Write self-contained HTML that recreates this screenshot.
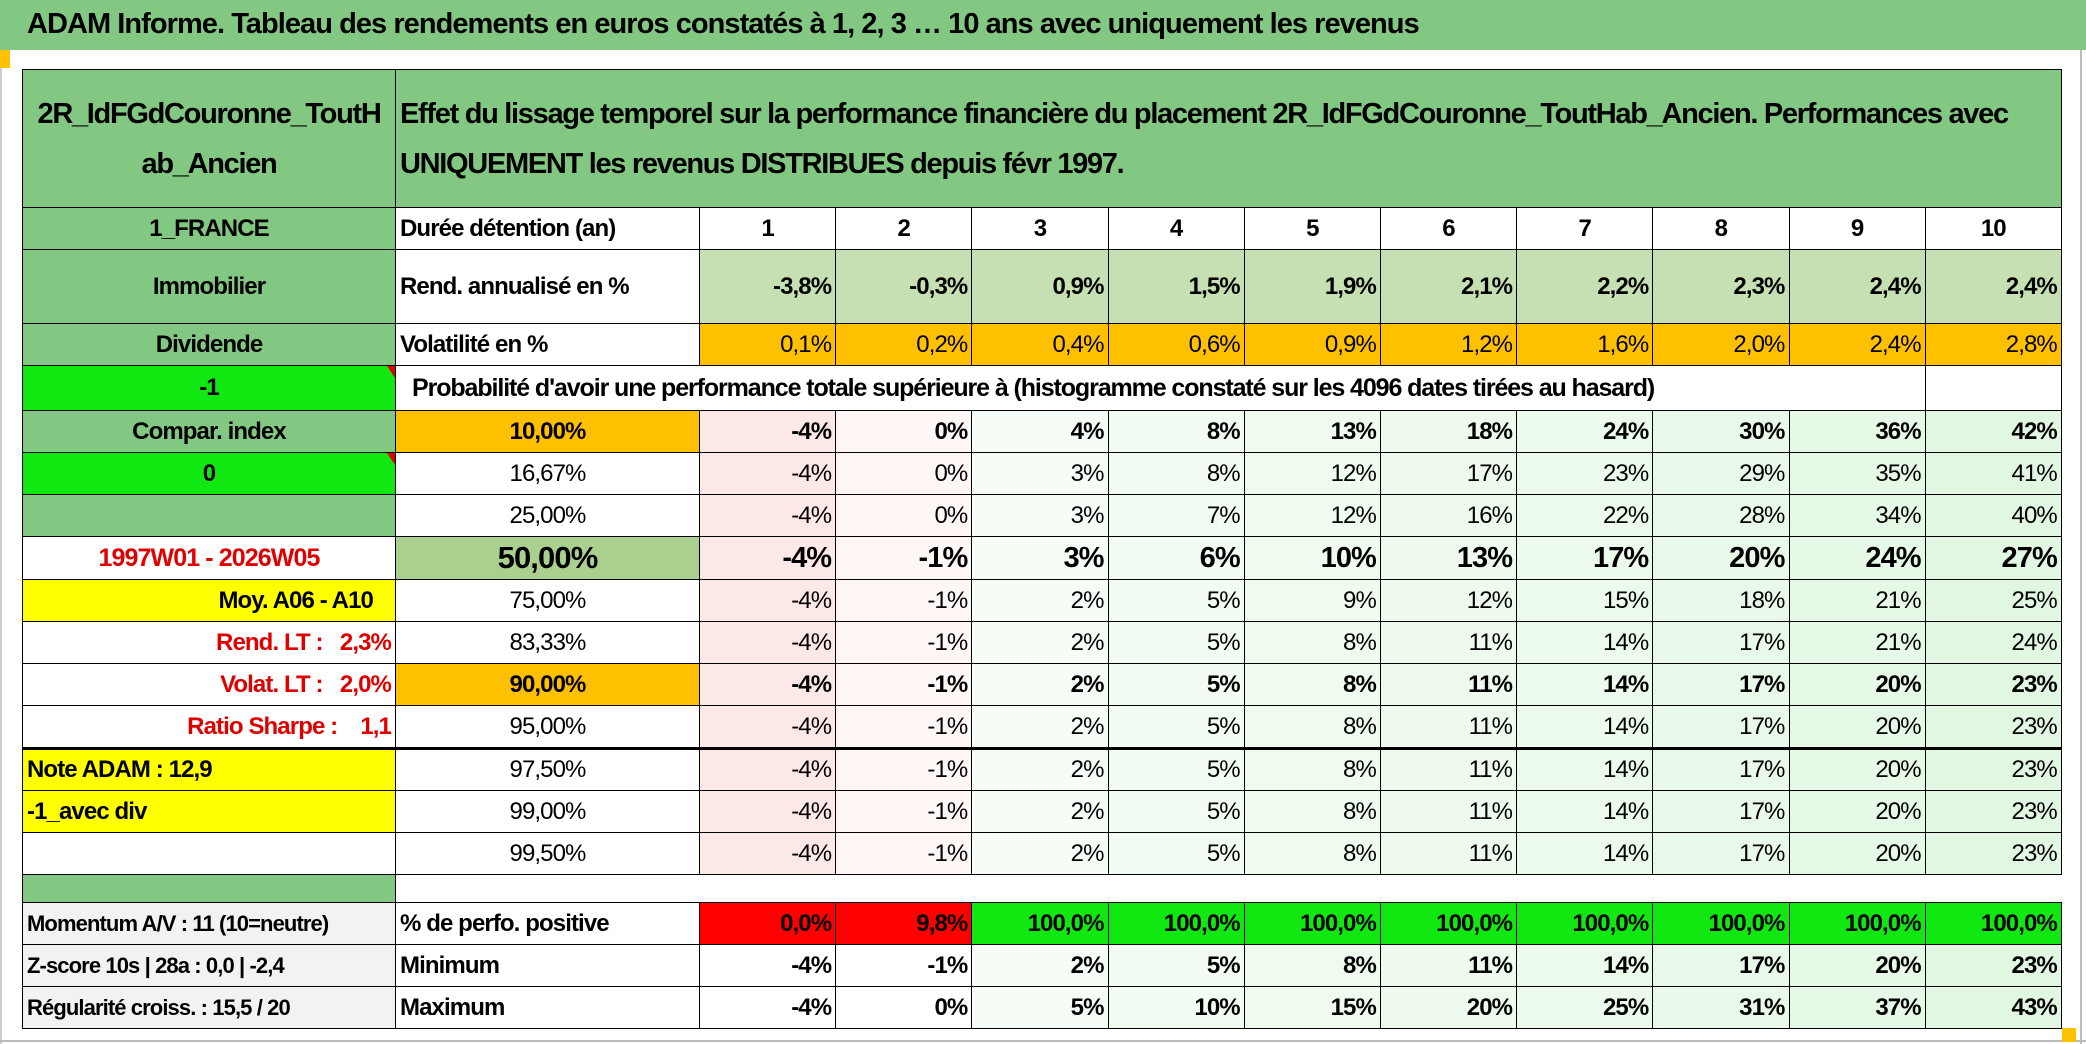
<!DOCTYPE html>
<html><head><meta charset="utf-8"><style>
body{margin:0;width:2086px;height:1044px;background:#fff;position:relative;overflow:hidden;font-family:"Liberation Sans",sans-serif;}
#title{position:absolute;left:0;top:0;width:2086px;height:50px;background:#82C882;}
#title span{position:absolute;left:27px;top:8px;font-size:29px;font-weight:bold;letter-spacing:-0.95px;color:#000;}
#mk1{position:absolute;left:0;top:50px;width:10px;height:18px;background:#FFC000}
#mk2{position:absolute;left:2062px;top:1028px;width:14px;height:14px;background:#FFC000}
#frameR{position:absolute;left:2080px;top:50px;width:2px;height:994px;background:#bbb}
#frameL{position:absolute;left:0;top:68px;width:2px;height:976px;background:#ccc}
#frameB{position:absolute;left:0;top:1040px;width:2086px;height:2px;background:#bbb}
table{position:absolute;left:22px;top:69px;border-collapse:collapse;table-layout:fixed;}
td{border:1.5px solid #000;padding:0 4px;font-size:24px;line-height:26px;white-space:nowrap;overflow:hidden;letter-spacing:-0.9px;}
.g{background:#82C882;text-align:center;font-weight:bold}
.c{text-align:center}.r{text-align:right}.b{font-weight:bold}
.red{color:#E00000}
.y{background:#FFFF00}.o{background:#FFC000}.lg{background:#C6E0B4}
.bg{background:#11E811}.rd{background:#FF0000}.gr{background:#F2F2F2}
.p1{background:#FDE8E8}.p2{background:#FFF6F6}
.k3{background:#F6FDF6}.k4{background:#F3FCF3}.k5{background:#F0FBF0}.k6{background:#EEFAEE}.k7{background:#ECFAEC}.k8{background:#E9F9E9}.k9{background:#E6F8E6}.k10{background:#E2F7E2}
.thick td{border-bottom:3px solid #000}
.tri{position:relative}
.tri:after{content:"";position:absolute;right:0;top:0;border-top:12px solid #E00000;border-left:8px solid transparent;}
.big td{font-size:29px}
</style></head><body>
<div id="title"><span>ADAM Informe. Tableau des rendements en euros constatés à 1, 2, 3 … 10 ans avec uniquement les revenus</span></div>
<div id="mk1"></div><div id="frameL"></div><div id="frameR"></div><div id="frameB"></div>
<table>
<colgroup><col style="width:373px"><col style="width:304px"><col span="10" style="width:136.2px"></colgroup>
<tr style="height:138px"><td class="g" style="font-size:29px;line-height:50px;letter-spacing:-1.3px">2R_IdFGdCouronne_ToutH<br>ab_Ancien</td><td colspan="11" class="g" style="text-align:left;font-size:29px;line-height:50px;letter-spacing:-1.3px">Effet du lissage temporel sur la performance financière du placement 2R_IdFGdCouronne_ToutHab_Ancien. Performances avec<br>UNIQUEMENT les revenus DISTRIBUES depuis févr 1997.</td></tr>
<tr style="height:42px"><td class="g">1_FRANCE</td><td class="b">Durée détention (an)</td><td class="c b">1</td><td class="c b">2</td><td class="c b">3</td><td class="c b">4</td><td class="c b">5</td><td class="c b">6</td><td class="c b">7</td><td class="c b">8</td><td class="c b">9</td><td class="c b">10</td></tr>
<tr style="height:74px"><td class="g">Immobilier</td><td class="b">Rend. annualisé en %</td><td class="r b lg">-3,8%</td><td class="r b lg">-0,3%</td><td class="r b lg">0,9%</td><td class="r b lg">1,5%</td><td class="r b lg">1,9%</td><td class="r b lg">2,1%</td><td class="r b lg">2,2%</td><td class="r b lg">2,3%</td><td class="r b lg">2,4%</td><td class="r b lg">2,4%</td></tr>
<tr style="height:42px"><td class="g">Dividende</td><td class="b">Volatilité en %</td><td class="r o">0,1%</td><td class="r o">0,2%</td><td class="r o">0,4%</td><td class="r o">0,6%</td><td class="r o">0,9%</td><td class="r o">1,2%</td><td class="r o">1,6%</td><td class="r o">2,0%</td><td class="r o">2,4%</td><td class="r o">2,8%</td></tr>
<tr style="height:45px"><td class="g bg tri">-1</td><td colspan="10" class="b" style="padding-left:16px;font-size:25px;letter-spacing:-1.1px">Probabilité d'avoir une performance totale supérieure à (histogramme constaté sur les 4096 dates tirées au hasard)</td><td></td></tr>
<tr style="height:42px" class="b"><td class="g">Compar. index</td><td class="c o b">10,00%</td><td class="r p1">-4%</td><td class="r p2">0%</td><td class="r k3">4%</td><td class="r k4">8%</td><td class="r k5">13%</td><td class="r k6">18%</td><td class="r k7">24%</td><td class="r k8">30%</td><td class="r k9">36%</td><td class="r k10">42%</td></tr>
<tr style="height:42px"><td class="g bg tri">0</td><td class="c">16,67%</td><td class="r p1">-4%</td><td class="r p2">0%</td><td class="r k3">3%</td><td class="r k4">8%</td><td class="r k5">12%</td><td class="r k6">17%</td><td class="r k7">23%</td><td class="r k8">29%</td><td class="r k9">35%</td><td class="r k10">41%</td></tr>
<tr style="height:42px"><td class="g"></td><td class="c">25,00%</td><td class="r p1">-4%</td><td class="r p2">0%</td><td class="r k3">3%</td><td class="r k4">7%</td><td class="r k5">12%</td><td class="r k6">16%</td><td class="r k7">22%</td><td class="r k8">28%</td><td class="r k9">34%</td><td class="r k10">40%</td></tr>
<tr style="height:43px" class="b big"><td class="c red b" style="font-size:25px">1997W01 - 2026W05</td><td class="c b" style="background:#A9D08E;font-size:31px">50,00%</td><td class="r p1">-4%</td><td class="r p2">-1%</td><td class="r k3">3%</td><td class="r k4">6%</td><td class="r k5">10%</td><td class="r k6">13%</td><td class="r k7">17%</td><td class="r k8">20%</td><td class="r k9">24%</td><td class="r k10">27%</td></tr>
<tr style="height:42px"><td class="r y b" style="padding-right:22px">Moy. A06 - A10</td><td class="c">75,00%</td><td class="r p1">-4%</td><td class="r p2">-1%</td><td class="r k3">2%</td><td class="r k4">5%</td><td class="r k5">9%</td><td class="r k6">12%</td><td class="r k7">15%</td><td class="r k8">18%</td><td class="r k9">21%</td><td class="r k10">25%</td></tr>
<tr style="height:42px"><td class="r red b">Rend. LT :&nbsp;&nbsp; 2,3%</td><td class="c">83,33%</td><td class="r p1">-4%</td><td class="r p2">-1%</td><td class="r k3">2%</td><td class="r k4">5%</td><td class="r k5">8%</td><td class="r k6">11%</td><td class="r k7">14%</td><td class="r k8">17%</td><td class="r k9">21%</td><td class="r k10">24%</td></tr>
<tr style="height:42px" class="b"><td class="r red b">Volat. LT :&nbsp;&nbsp; 2,0%</td><td class="c o b">90,00%</td><td class="r p1">-4%</td><td class="r p2">-1%</td><td class="r k3">2%</td><td class="r k4">5%</td><td class="r k5">8%</td><td class="r k6">11%</td><td class="r k7">14%</td><td class="r k8">17%</td><td class="r k9">20%</td><td class="r k10">23%</td></tr>
<tr style="height:43px" class="thick"><td class="r red b">Ratio Sharpe :&nbsp;&nbsp;&nbsp; 1,1</td><td class="c">95,00%</td><td class="r p1">-4%</td><td class="r p2">-1%</td><td class="r k3">2%</td><td class="r k4">5%</td><td class="r k5">8%</td><td class="r k6">11%</td><td class="r k7">14%</td><td class="r k8">17%</td><td class="r k9">20%</td><td class="r k10">23%</td></tr>
<tr style="height:42px"><td class="y b">Note ADAM : 12,9</td><td class="c">97,50%</td><td class="r p1">-4%</td><td class="r p2">-1%</td><td class="r k3">2%</td><td class="r k4">5%</td><td class="r k5">8%</td><td class="r k6">11%</td><td class="r k7">14%</td><td class="r k8">17%</td><td class="r k9">20%</td><td class="r k10">23%</td></tr>
<tr style="height:42px"><td class="y b">-1_avec div</td><td class="c">99,00%</td><td class="r p1">-4%</td><td class="r p2">-1%</td><td class="r k3">2%</td><td class="r k4">5%</td><td class="r k5">8%</td><td class="r k6">11%</td><td class="r k7">14%</td><td class="r k8">17%</td><td class="r k9">20%</td><td class="r k10">23%</td></tr>
<tr style="height:42px"><td></td><td class="c">99,50%</td><td class="r p1">-4%</td><td class="r p2">-1%</td><td class="r k3">2%</td><td class="r k4">5%</td><td class="r k5">8%</td><td class="r k6">11%</td><td class="r k7">14%</td><td class="r k8">17%</td><td class="r k9">20%</td><td class="r k10">23%</td></tr>
<tr style="height:28px"><td class="g"></td><td colspan="11" style="border-left:none;border-right:none"></td></tr>
<tr style="height:42px" class="b"><td class="gr b" style="font-size:22px">Momentum A/V : 11 (10=neutre)</td><td class="b">% de perfo. positive</td><td class="r rd">0,0%</td><td class="r rd">9,8%</td><td class="r bg">100,0%</td><td class="r bg">100,0%</td><td class="r bg">100,0%</td><td class="r bg">100,0%</td><td class="r bg">100,0%</td><td class="r bg">100,0%</td><td class="r bg">100,0%</td><td class="r bg">100,0%</td></tr>
<tr style="height:42px" class="b"><td class="gr b" style="font-size:22px">Z-score 10s | 28a : 0,0 | -2,4</td><td class="b">Minimum</td><td class="r">-4%</td><td class="r">-1%</td><td class="r k3">2%</td><td class="r k4">5%</td><td class="r k5">8%</td><td class="r k6">11%</td><td class="r k7">14%</td><td class="r k8">17%</td><td class="r k9">20%</td><td class="r k10">23%</td></tr>
<tr style="height:42px" class="b"><td class="gr b" style="font-size:22px">Régularité croiss. : 15,5 / 20</td><td class="b">Maximum</td><td class="r">-4%</td><td class="r">0%</td><td class="r k3">5%</td><td class="r k4">10%</td><td class="r k5">15%</td><td class="r k6">20%</td><td class="r k7">25%</td><td class="r k8">31%</td><td class="r k9">37%</td><td class="r k10">43%</td></tr>
</table>
<div id="mk2"></div>
</body></html>
